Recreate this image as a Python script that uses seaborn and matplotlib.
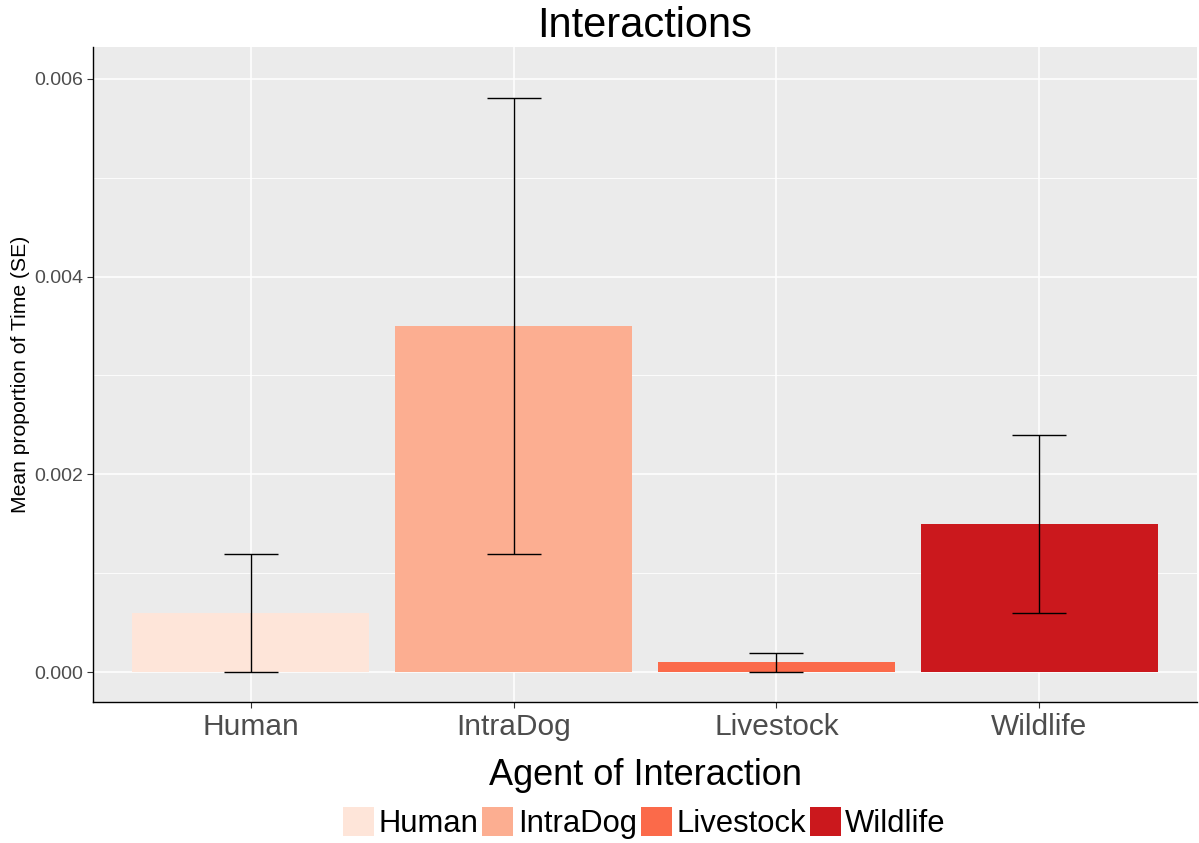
import matplotlib
matplotlib.use("Agg")
import matplotlib.pyplot as plt
import matplotlib.patches as mpatches
from matplotlib.ticker import MultipleLocator
import seaborn as sns
import pandas as pd

# Mean proportion of time per interaction agent, with SE bounds
agents = ["Human", "IntraDog", "Livestock", "Wildlife"]
means = [0.0006, 0.0035, 0.0001, 0.0015]
lower = [0.0, 0.0012, 0.0, 0.0006]
upper = [0.0012, 0.0058, 0.0002, 0.0024]
colors = ["#FEE5D9", "#FCAE91", "#FB6A4A", "#CB181D"]

sns.set_theme(style="darkgrid")
plt.rcParams["font.family"] = ["Liberation Sans", "DejaVu Sans"]

df = pd.DataFrame({"agent": agents, "mean": means})

fig = plt.figure(figsize=(11.99, 8.43), dpi=100)
ax = fig.add_axes([0.0776, 0.1673, 0.9207, 0.7769])
ax.set_facecolor("#EBEBEB")

sns.barplot(data=df, x="agent", y="mean", hue="agent", order=agents,
            hue_order=agents, palette=colors, width=0.9, dodge=False,
            saturation=1, legend=False, ax=ax, zorder=2,
            linewidth=0, edgecolor="none")

xs = range(len(agents))
yerr = [[m - lo for m, lo in zip(means, lower)],
        [hi - m for m, hi in zip(means, upper)]]
ax.errorbar(xs, means, yerr=yerr, fmt="none", ecolor="black",
            elinewidth=1.0, capsize=19.4, capthick=1.0, zorder=3)

ax.set_xlim(-0.6, 3.6)
ax.set_ylim(-0.0003, 0.00632)
ax.yaxis.set_minor_locator(MultipleLocator(0.001))
ax.set_yticks([0, 0.002, 0.004, 0.006])
ax.set_yticklabels(["0.000", "0.002", "0.004", "0.006"])

ax.grid(True, which="major", color="white", linewidth=1.1, zorder=0)
ax.grid(True, which="minor", axis="y", color="white", linewidth=0.6, zorder=0)
ax.set_axisbelow(True)

for side in ["top", "right"]:
    ax.spines[side].set_visible(False)
for side in ["left", "bottom"]:
    ax.spines[side].set_visible(True)
    ax.spines[side].set_color("black")
    ax.spines[side].set_linewidth(1.0)

ax.tick_params(axis="both", which="major", direction="out", length=4,
               width=0.8, color="#333333", bottom=True, left=True)
ax.tick_params(axis="y", which="minor", length=0)
ax.tick_params(axis="x", labelsize=21.5, labelcolor="#4D4D4D", pad=4)
ax.tick_params(axis="y", labelsize=14, labelcolor="#4D4D4D", pad=3)

ax.set_xlabel("Agent of Interaction", fontsize=26, color="black", labelpad=12)
ax.set_ylabel("Mean proportion of Time (SE)", fontsize=15.2, color="black",
              labelpad=3)
ax.set_title("Interactions", fontsize=30, color="black", pad=7)

handles = [mpatches.Patch(facecolor=c, edgecolor="none", label=a)
           for a, c in zip(agents, colors)]
fig.legend(handles=handles, loc="center", bbox_to_anchor=(0.5375, 0.0237),
           ncol=4, frameon=False, fontsize=22.3, labelcolor="black",
           handlelength=1.0, handleheight=1.05, handletextpad=0.15,
           columnspacing=0.12, borderaxespad=0, borderpad=0)

fig.savefig("out.png", dpi=100, facecolor="white")
